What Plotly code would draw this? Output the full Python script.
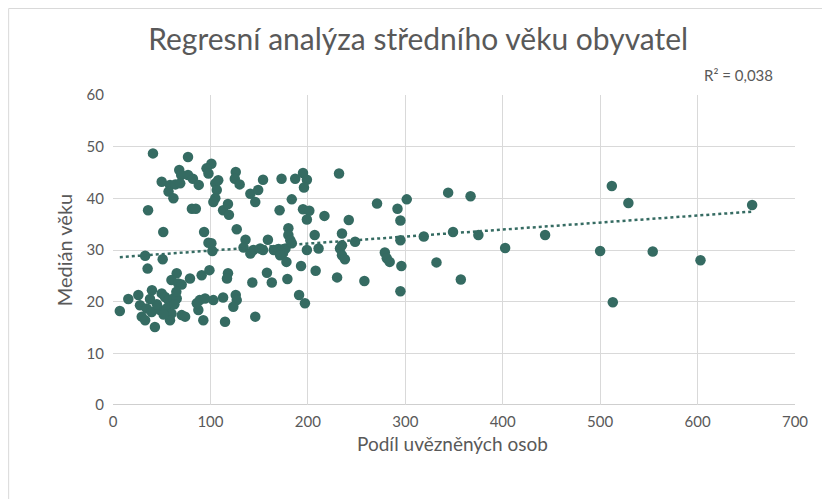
import numpy as np
import plotly.graph_objects as go

# Podíl uvězněných osob (x) a medián věku (y)
x_vals = [
    41, 77, 101, 96, 68, 70, 77, 82, 88, 50, 58.5, 64, 69, 57, 62, 105, 106.5, 105, 103, 36,
    81, 85, 98, 108, 113,
    126, 125, 130, 154, 173, 187, 195, 199, 196, 141, 149, 118, 146, 119, 183.5, 171, 195,
    201.5, 199, 217, 232,
    51.6, 93.5, 98, 102, 127, 136, 134, 144, 151, 154, 159, 165, 170, 173, 177, 180, 180,
    182, 183.5, 174.5, 171.5, 141, 101, 199, 211, 207, 235, 235, 233, 248.5, 295, 319, 349,
    375, 235, 238, 242, 295, 279, 281, 284, 296, 332, 344, 367, 301.5, 271, 292, 258, 357,
    295, 230,
    7, 33, 51, 35.5, 65.4, 60, 67, 79, 70.5, 91, 99, 40, 50, 53.4, 56.8, 62, 65.4, 26, 15.7,
    27.7, 34.6, 39.7, 48.3, 55, 60, 58.5, 29.5, 33, 43, 70.5, 74, 89, 94.5, 103, 87.6, 92.7,
    86, 65, 45, 52, 63, 38,
    118, 117, 158, 143, 163, 179, 178, 193, 208, 113, 126, 127, 123.5, 191, 197, 115, 146,
    402.5, 443.5, 500, 512, 529, 513, 554, 603, 656,
]
y_vals = [
    48.7, 48, 46.7, 45.8, 45.5, 44.5, 44.5, 43.8, 42.6, 43.2, 42.6, 42.7, 42.9, 41.3, 40, 42.9,
    41.6, 40, 39.3, 37.7, 38, 38, 44.8, 43.5, 37.7,
    45.1, 43.8, 42.7, 43.6, 43.8, 43.8, 44.9, 43.6, 42.1, 40.9, 41.6, 38.9, 39.3, 36.8, 39.8,
    37.7, 37.9, 37.6, 35.9, 36.6, 44.8,
    33.5, 33.5, 31.4, 29.8, 34, 32, 30.5, 30, 30.3, 30, 32, 30, 30.2, 29.8, 30.3, 34.2, 32.9,
    31.9, 31.3, 29.4, 29, 29.3, 31.3, 30, 30.3, 32.9, 33.2, 30.9, 30.3, 31.6, 31.9, 32.6, 33.5,
    32.9, 29, 28.2, 35.8, 35.7, 29.5, 28.4, 27.7, 26.9, 27.6, 41.1, 40.4, 39.8, 39, 38, 24,
    24.3, 22, 24.7,
    18.2, 28.9, 28.2, 26.4, 25.5, 24.2, 23.5, 24.5, 23.3, 25.1, 26.1, 22.2, 21.6, 20.9, 20.3,
    20.6, 20.6, 21.3, 20.5, 19.3, 18.7, 18, 18.4, 18.7, 17.7, 16.4, 17.1, 16.4, 15.1, 17.4,
    17.1, 20.3, 20.6, 20.3, 18.4, 16.4, 19.7, 21.9, 19.5, 17.5, 19.5, 20.5,
    25.5, 24.5, 25.6, 23.7, 23.7, 24.4, 27.7, 26.9, 26, 20.8, 21.3, 20.3, 19, 21.3, 19.7,
    16.1, 17.1,
    30.4, 32.9, 29.8, 42.4, 39.1, 19.9, 29.7, 28, 38.7,
]

x_ticks = [0, 100, 200, 300, 400, 500, 600, 700]
y_ticks = [0, 10, 20, 30, 40, 50, 60]

title_text = "Regresní analýza středního věku obyvatel"
x_title = "Podíl uvězněných osob"
y_title = "Medián věku"
r2_text = "R² = 0,038"

MARK = "#356b62"
TXT = "#595959"
FONT = "Lato"

xa = np.array(x_vals, dtype=float)
ya = np.array(y_vals, dtype=float)
slope, intercept = np.polyfit(xa, ya, 1)
tx = np.array([xa.min(), xa.max()])
ty = slope * tx + intercept

fig = go.Figure()
fig.add_trace(go.Scatter(
    x=x_vals, y=y_vals, mode="markers",
    marker=dict(color=MARK, size=10.5, line=dict(width=0)),
    showlegend=False, hoverinfo="x+y",
))
fig.add_trace(go.Scatter(
    x=tx, y=ty, mode="lines",
    line=dict(color=MARK, width=2.5, dash="dot"),
    showlegend=False, hoverinfo="skip",
))

fig.update_layout(
    width=822, height=491,
    paper_bgcolor="white", plot_bgcolor="white",
    margin=dict(l=105, r=35, t=87, b=94, autoexpand=False),
    font=dict(family=FONT, color=TXT),
    title=dict(text=title_text, x=0.499, xanchor="center", y=0.935, yanchor="middle",
               font=dict(family=FONT, size=30, color=TXT)),
    xaxis=dict(
        range=[0, 700], tickvals=x_ticks, ticktext=[str(v) for v in x_ticks],
        showgrid=True, gridcolor="#d9d9d9", gridwidth=1,
        zeroline=False, showline=False,
        tickfont=dict(size=15, color=TXT), ticks="outside", ticklen=3,
        tickcolor="rgba(0,0,0,0)",
    ),
    yaxis=dict(
        range=[0, 60], tickvals=y_ticks, ticktext=[str(v) for v in y_ticks],
        showgrid=True, gridcolor="#d9d9d9", gridwidth=1,
        zeroline=False, showline=False,
        tickfont=dict(size=15, color=TXT), ticks="outside", ticklen=5,
        tickcolor="rgba(0,0,0,0)",
        title=dict(text=y_title, font=dict(size=20, color=TXT), standoff=8),
    ),
    shapes=[
        dict(type="line", xref="paper", yref="y", x0=0, x1=1, y0=0, y1=0,
             line=dict(color="#bfbfbf", width=1.5), layer="below"),
        dict(type="rect", xref="paper", yref="paper",
             x0=-0.153, x1=1.049, y0=-0.31, y1=1.279,
             line=dict(color="#d9d9d9", width=1), fillcolor="rgba(0,0,0,0)"),
    ],
    annotations=[
        dict(text=r2_text, xref="paper", yref="paper", x=0.971, y=1.065,
             xanchor="right", yanchor="middle", showarrow=False,
             font=dict(family=FONT, size=15, color=TXT)),
        dict(text=x_title, xref="paper", yref="paper", x=0.4985, y=-0.125,
             xanchor="center", yanchor="middle", showarrow=False,
             font=dict(family=FONT, size=19, color=TXT)),
    ],
)

fig.write_html("out.html")
